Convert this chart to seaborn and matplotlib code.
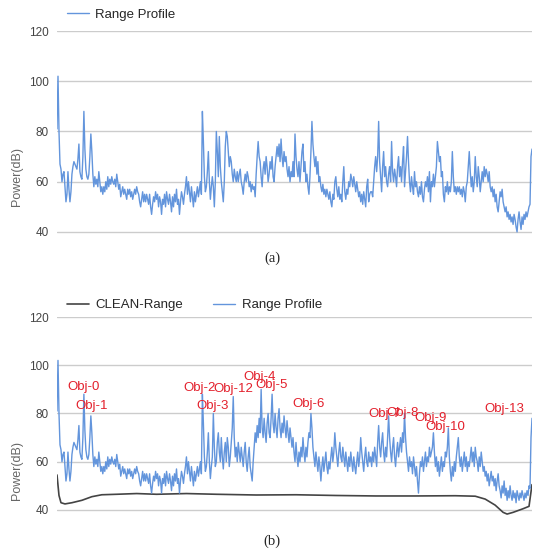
import numpy as np
import pandas as pd
import matplotlib
matplotlib.use("Agg")
import matplotlib.pyplot as plt
import seaborn as sns

# %% data (range bins vs power in dB)
profile_near = [81, 102, 80, 67, 65, 60, 63, 64, 58, 52,
                55, 64, 57, 52, 56, 63, 66, 68, 67, 66, 65, 69, 75, 64, 62, 61, 70, 88, 73, 65,
                62, 61, 63, 70, 79, 72, 63, 58, 62, 59, 61, 58, 64, 60, 56, 58, 55, 58, 56, 60,
                57, 62, 58, 61, 59, 62, 60, 59, 61, 58, 63, 60, 57, 59, 54, 56, 58, 55, 57, 55,
                53, 57, 55, 57, 54, 56, 53, 55, 57, 55, 58, 56, 55, 52, 50, 53, 56, 52, 55, 52,
                55, 53, 51, 55, 50, 47, 51, 54, 52, 56, 53, 55, 50, 54, 52, 47, 53, 51, 55, 50,
                56, 53, 51, 55, 52, 48, 54, 50, 55, 52, 57, 51, 53, 47, 52, 56, 54, 51, 55, 58,
                62, 55, 60, 56, 52, 58, 54, 50, 56, 52, 55, 58, 54, 57, 60, 55, 88, 76, 62, 56,
                58, 64, 72, 60, 53, 58]

# panel (a), middle and far range bins
profile_mid = [62, 58, 50, 60, 80, 72, 62, 78, 66, 60,
               56, 52, 60, 74, 80, 78, 72, 66, 70, 68,
               63, 60, 65, 62, 60, 64, 60, 63, 65, 60,
               58, 55, 60, 63, 60, 64, 62, 58, 60, 56,
               59, 57, 58, 54, 63, 70, 76, 70, 68, 62,
               58, 65, 68, 63, 70, 66, 60, 63, 68, 65,
               70, 62, 60, 66, 70, 74, 70, 75, 68, 77,
               70, 66, 72, 68, 70, 65, 62, 66, 60, 64,
               62, 68, 62, 79, 70, 65, 62, 68, 60, 66,
               72, 75, 64, 68, 60, 63, 58, 55, 62, 72,
               84, 75, 70, 66, 70, 63, 68, 60, 62, 58,
               56, 59, 55, 57, 54, 57, 55, 53, 56, 52,
               50, 55, 53, 60, 62, 57, 54, 58, 53, 55,
               52, 60, 66, 56, 53, 57, 55, 60, 58, 63,
               61, 58, 62, 59, 56, 60, 57, 54, 56, 52,
               55, 51, 56, 53, 50, 58, 61, 52, 55, 56]
profile_far = [56, 54, 60, 66, 70, 64, 70, 84, 68, 62,
               56, 66, 72, 62, 66, 60, 58, 63, 66, 60,
               76, 64, 60, 65, 62, 58, 66, 70, 62, 66,
               60, 68, 74, 58, 64, 70, 78, 68, 60, 56,
               62, 58, 55, 64, 58, 60, 56, 54, 58, 55,
               60, 54, 52, 57, 60, 58, 62, 56, 64, 52,
               60, 58, 63, 58, 62, 66, 76, 72, 68, 70,
               62, 64, 55, 52, 58, 56, 60, 55, 58, 56,
               60, 72, 62, 56, 58, 55, 58, 56, 58, 55,
               57, 54, 58, 56, 52, 58, 60, 66, 72, 64,
               58, 62, 56, 60, 70, 62, 58, 66, 62, 56,
               60, 64, 60, 66, 62, 65, 63, 60, 64, 58,
               56, 58, 54, 57, 52, 55, 50, 48, 52, 56,
               54, 57, 52, 50, 48, 50, 46, 48, 45, 47,
               44, 46, 43, 47, 45, 42, 40, 45, 48, 44,
               41, 46, 43, 47, 45, 48, 46, 48, 50, 51,
               70, 73]

# panel (b), middle and far range bins
profile_mid_b = [62, 80, 66, 58, 60, 68, 72, 64, 60, 70,
                 62, 57, 64, 68, 60, 70, 66, 58, 62, 68,
                 74, 87, 70, 62, 66, 60, 68, 64, 60, 66,
                 62, 58, 64, 68, 60, 56, 62, 66, 58, 55,
                 52, 60, 66, 72, 68, 75, 70, 78, 72, 90,
                 74, 70, 78, 72, 68, 76, 80, 72, 70, 78,
                 88, 76, 72, 80, 74, 70, 78, 82, 74, 70,
                 76, 72, 79, 74, 70, 77, 72, 68, 74, 70,
                 66, 70, 64, 60, 68, 62, 58, 64, 60, 66,
                 62, 70, 64, 60, 66, 62, 68, 72, 70, 80,
                 74, 66, 62, 58, 64, 60, 56, 62, 58, 52,
                 58, 62, 56, 60, 64, 58, 55, 60, 57, 62,
                 66, 60, 64, 72, 66, 62, 58, 64, 68, 62,
                 60, 66, 62, 58, 64, 60, 56, 62, 58, 64,
                 60, 56, 62, 58, 55, 60, 64, 58, 62, 70,
                 64, 60, 56, 62, 66, 60, 58, 64, 60, 62]
profile_far_b = [58, 64, 60, 66, 62, 58, 68, 75, 66, 62,
                 68, 72, 64, 60, 66, 62, 70, 79, 70, 64,
                 60, 66, 70, 62, 58, 64, 68, 62, 66, 70,
                 64, 72, 68, 80, 70, 64, 60, 56, 62, 58,
                 60, 55, 62, 58, 54, 58, 52, 47, 55, 60,
                 58, 62, 56, 60, 64, 58, 62, 60, 66, 62,
                 64, 66, 72, 64, 58, 62, 56, 60, 54, 58,
                 62, 56, 60, 58, 64, 62, 66, 74, 62, 56,
                 52, 58, 54, 60, 56, 62, 66, 70, 62, 58,
                 62, 56, 60, 64, 58, 62, 56, 60, 58, 62,
                 66, 60, 64, 58, 66, 62, 60, 56, 62, 58,
                 64, 60, 56, 58, 54, 56, 52, 55, 50, 53,
                 56, 52, 54, 50, 53, 48, 52, 55, 50, 48,
                 45, 50, 47, 52, 46, 49, 44, 48, 45, 50,
                 46, 44, 48, 45, 47, 43, 48, 46, 44, 47,
                 45, 48, 46, 44, 47, 45, 48, 46, 50, 49,
                 70, 78]

clean_bins = [0, 2, 4, 8, 15, 25, 35, 45, 60, 80, 100, 130, 160, 200, 240, 280,
              320, 360, 400, 420, 430, 440, 448, 452, 458, 468, 474, 477]
clean_db = [54.5, 46, 43, 42.5, 43, 44, 45.5, 46.3, 46.5, 46.8, 46.5, 46.8, 46.5, 46.2,
            46.3, 46.0, 45.8, 45.8, 45.9, 45.7, 44.5, 42, 39, 38.3, 39, 40.5, 41.5, 50.5]

obj_names = ["Obj-0", "Obj-1", "Obj-2", "Obj-12", "Obj-3", "Obj-4", "Obj-5",
             "Obj-6", "Obj-7", "Obj-8", "Obj-9", "Obj-10", "Obj-13"]
obj_bins = [10, 18, 127, 157, 140, 187, 199, 236, 313, 331, 359, 370, 429]
obj_db = [90.8, 83, 90.4, 90, 83, 95, 91.7, 84, 79.6, 80.4, 78, 74.6, 81.7]

yticks = [40, 60, 80, 100, 120]

profile_a = profile_near + profile_mid + profile_far
profile_b = profile_near + profile_mid_b + profile_far_b
df_a = pd.DataFrame({"bin": np.arange(len(profile_a)), "power": profile_a})
df_b = pd.DataFrame({"bin": np.arange(len(profile_b)), "power": profile_b})
clean = pd.DataFrame({"bin": clean_bins, "power": clean_db})

# %% style
sns.set_style("white")
plt.rcParams["font.family"] = ["Liberation Sans", "DejaVu Sans"]

blue = "#6395dc"
dark = "#444444"
red = "#e3202c"

W, H = 533, 551
fig = plt.figure(figsize=(W / 100, H / 100), dpi=100)
ax_a = fig.add_axes([57 / W, 1 - 242 / H, 475 / W, 211 / H])
ax_b = fig.add_axes([57 / W, 1 - 519.6 / H, 475 / W, 202.6 / H])

for ax in (ax_a, ax_b):
    ax.set_xlim(0, len(profile_a) - 1)
    ax.set_ylim(36, 120)
    ax.set_yticks(yticks)
    ax.set_xticks([])
    ax.grid(axis="y", color="#cccccc", linewidth=1)
    ax.set_axisbelow(True)
    for s in ax.spines.values():
        s.set_visible(False)
    ax.tick_params(axis="y", length=0, pad=6, labelsize=8.5, labelcolor="#444444")

# %% (a) range profile
sns.lineplot(data=df_a, x="bin", y="power", ax=ax_a, color=blue, linewidth=1.0,
             estimator=None, label="Range Profile")
ax_a.set_xlabel("")
ax_a.set_ylabel("")
ax_a.legend(loc="center left", bbox_to_anchor=(67 / W, 1 - 15 / H),
            bbox_transform=fig.transFigure, frameon=False, fontsize=9.5,
            borderaxespad=0, borderpad=0, handlelength=1.65, handletextpad=0.5)

# %% (b) CLEAN + range profile
sns.lineplot(data=clean, x="bin", y="power", ax=ax_b, color=dark, linewidth=1.2,
             estimator=None, label="CLEAN-Range")
sns.lineplot(data=df_b, x="bin", y="power", ax=ax_b, color=blue, linewidth=1.0,
             estimator=None, label="Range Profile")
ax_b.set_xlabel("")
ax_b.set_ylabel("")
ax_b.legend(loc="center left", bbox_to_anchor=(67 / W, 1 - 305 / H),
            bbox_transform=fig.transFigure, frameon=False, fontsize=9.5, ncol=2,
            borderaxespad=0, borderpad=0, handlelength=1.65, handletextpad=0.5,
            columnspacing=2.3)

for name, b, p in zip(obj_names, obj_bins, obj_db):
    ax_b.text(b, p, name, color=red, fontsize=9.5, ha="left", va="center")

# axis titles and captions
fig.text(17 / W, 1 - 177 / H, "Power(dB)", rotation=90, ha="center", va="center",
         fontsize=9, color="#666666")
fig.text(17 / W, 1 - 470 / H, "Power(dB)", rotation=90, ha="center", va="center",
         fontsize=9, color="#666666")
fig.text(272 / W, 1 - 258 / H, "(a)", ha="center", va="center", fontsize=10.5,
         family=["Liberation Serif", "DejaVu Serif"])
fig.text(272 / W, 1 - 541 / H, "(b)", ha="center", va="center", fontsize=10.5,
         family=["Liberation Serif", "DejaVu Serif"])

fig.savefig("out.png", dpi=100)
